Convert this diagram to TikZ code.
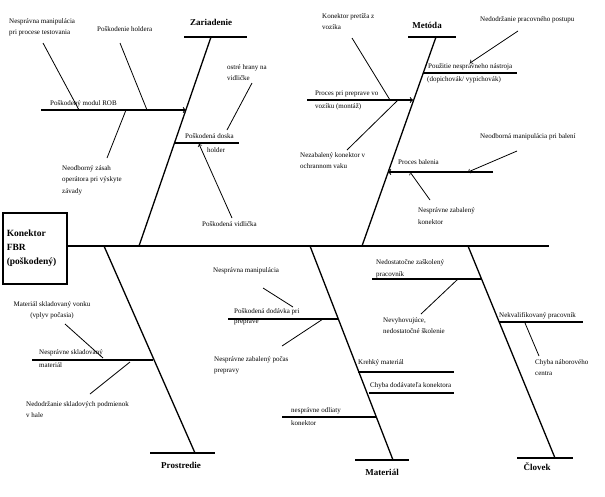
\documentclass[tikz,border=0pt]{standalone}
\usepackage{fontspec}
\setmainfont{Liberation Serif}
\usetikzlibrary{arrows,positioning}

\begin{document}
\begin{tikzpicture}[x=1pt,y=-1pt,>=to,
                    lbl/.style={font=\fontsize{7}{11.5}\selectfont, inner sep=0pt, align=left, anchor=west},
                    cat/.style={font=\fontsize{9}{11}\selectfont\bfseries, inner sep=0pt},
                    spine/.style={line width=2pt},
                    bone/.style={line width=1.3pt},
                    rib/.style={line width=1.1pt},
                    twig/.style={line width=0.8pt}]
  \useasboundingbox (0,0) rectangle (605,496);

  % head of the fish
  \node[draw, line width=1.5pt, anchor=north west, minimum width=64pt, minimum height=71pt,
        text width=56pt, inner xsep=4pt, align=left,
        font=\fontsize{9.5}{14}\selectfont\bfseries] (fbr) at (2,212) {Konektor\\FBR\\(poškodený)};
  \coordinate (tail) at (549,246);
  \draw[spine] (fbr.east |- tail) -- (tail);

  % Zariadenie
  \coordinate (zS) at (139,246);  \coordinate (zT) at (211,37);
  \node[cat] (zar) at (211,22) {Zariadenie};
  \draw[bone] ([xshift=-27pt]zT) -- ([xshift=36pt]zT);
  \draw[bone] (zT) -- (zS);
  \coordinate (rob0) at (41,110);  \coordinate (rob1) at (186,110);
  \coordinate (hol0) at (174,143); \coordinate (hol1) at (239,143);
  \draw[rib,->] (rob0) -- (rob1);
  \draw[rib] (hol0) -- (hol1);
  \node[lbl] (rob) at (50,104) {Poškodený modul ROB};
  \node[lbl] (dos) at (185,136) {Poškodená doska};
  \node[lbl] (hld) at (207,150) {holder};
  \node[lbl] (nmt) at (9,27.5) {Nesprávna manipulácia\\pri procese testovania};
  \node[lbl] (phl) at (97,29) {Poškodenie holdera};
  \node[lbl] (nzo) at (62,180) {Neodborný zásah\\operátora pri výskyte\\závady};
  \node[lbl] (ohr) at (227,72.5) {ostré hrany na\\vidličke};
  \node[lbl] (pvi) at (202,224) {Poškodená vidlička};
  \coordinate (nmt0) at (43,43);   \coordinate (nmt1) at (79,110);
  \coordinate (phl0) at (120,43);  \coordinate (phl1) at (147,110);
  \coordinate (nzo0) at (107,158); \coordinate (nzo1) at (126,110);
  \coordinate (ohr0) at (252,83);  \coordinate (ohr1) at (227,130);
  \coordinate (pvi0) at (232,218); \coordinate (pvi1) at (199,144);
  \draw[twig] (nmt0) -- (nmt1);
  \draw[twig] (phl0) -- (phl1);
  \draw[twig] (nzo0) -- (nzo1);
  \draw[twig] (ohr0) -- (ohr1);
  \draw[twig,->] (pvi0) -- (pvi1);

  % Metoda
  \coordinate (mS) at (362,246);  \coordinate (mT) at (436,37);
  \node[cat] (met) at (427,25) {Metóda};
  \draw[bone] ([xshift=-28pt]mT) -- ([xshift=20pt]mT);
  \draw[bone] (mT) -- (mS);
  \coordinate (pre0) at (307,100); \coordinate (pre1) at (413,100);
  \coordinate (nas0) at (423,73);  \coordinate (nas1) at (517,73);
  \coordinate (bal0) at (493,172); \coordinate (bal1) at (388,172);
  \draw[rib,->] (pre0) -- (pre1);
  \draw[rib] (nas0) -- (nas1);
  \draw[rib,->] (bal0) -- (bal1);
  \node[lbl] (pre) at (315,94) {Proces pri preprave vo};
  \node[lbl] (voz) at (315,107) {vozíku (montáž)};
  \node[lbl] (nas) at (428,67) {Použitie nesprávneho nástroja};
  \node[lbl] (dop) at (427,80) {(dopichovák/ vypichovák)};
  \node[lbl] (bal) at (398,162) {Proces balenia};
  \node[lbl] (kpz) at (322,21.5) {Konektor pretíža z\\vozíka};
  \node[lbl] (nko) at (300,160.5) {Nezabalený konektor v\\ochrannom vaku};
  \node[lbl] (npp) at (480,20) {Nedodržanie pracovného postupu};
  \node[lbl] (nmb) at (480,137) {Neodborná manipulácia pri balení};
  \node[lbl] (nzk) at (418,216) {Nesprávne zabalený\\konektor};
  \coordinate (kpz0) at (352,38);  \coordinate (kpz1) at (390,100);
  \coordinate (nko0) at (347,150); \coordinate (nko1) at (398,100);
  \coordinate (npp0) at (518,31);  \coordinate (npp1) at (470,63);
  \coordinate (nmb0) at (517,151); \coordinate (nmb1) at (468,172);
  \coordinate (nzk0) at (430,200); \coordinate (nzk1) at (410,172);
  \draw[twig] (kpz0) -- (kpz1);
  \draw[twig] (nko0) -- (nko1);
  \draw[twig,->] (npp0) -- (npp1);
  \draw[twig,->] (nmb0) -- (nmb1);
  \draw[twig,->] (nzk0) -- (nzk1);

  % Prostredie
  \coordinate (pS) at (104,246);  \coordinate (pT) at (195,453);
  \node[cat] (pro) at (181,465) {Prostredie};
  \draw[bone] ([xshift=-45pt]pT) -- ([xshift=20pt]pT);
  \draw[bone] (pS) -- (pT);
  \coordinate (skl0) at (32,360);  \coordinate (skl1) at (153,360);
  \draw[rib] (skl0) -- (skl1);
  \node[lbl] (skl) at (39,353) {Nesprávne skladovaný};
  \node[lbl] (mtr) at (39,365) {materiál};
  \node[lbl, align=center, anchor=center] (von) at (52,310.5) {Materiál skladovaný vonku\\(vplyv počasia)};
  \node[lbl] (nsp) at (26,409.5) {Nedodržanie skladových podmienok\\v hale};
  \coordinate (von0) at (65,324);  \coordinate (von1) at (103,358);
  \coordinate (nsp0) at (90,394);  \coordinate (nsp1) at (130,362);
  \draw[twig] (von0) -- (von1);
  \draw[twig] (nsp0) -- (nsp1);

  % Material
  \coordinate (maS) at (310,246); \coordinate (maT) at (393,460);
  \node[cat] (mat) at (382,472) {Materiál};
  \draw[bone] ([xshift=-38pt]maT) -- ([xshift=16pt]maT);
  \draw[bone] (maS) -- (maT);
  \coordinate (dod0) at (228,319); \coordinate (dod1) at (338,319);
  \coordinate (kre0) at (358,372); \coordinate (kre1) at (454,372);
  \coordinate (chd0) at (369,393); \coordinate (chd1) at (454,393);
  \coordinate (odl0) at (282,417); \coordinate (odl1) at (376,417);
  \draw[rib] (dod0) -- (dod1);
  \draw[rib] (kre0) -- (kre1);
  \draw[rib] (chd0) -- (chd1);
  \draw[rib] (odl0) -- (odl1);
  \node[lbl] (dod) at (234,312) {Poškodená dodávka pri};
  \node[lbl] (prp) at (234,323) {preprave};
  \node[lbl] (kre) at (358,363) {Krehký materiál};
  \node[lbl] (chd) at (370,386) {Chyba dodávateľa konektora};
  \node[lbl] (odl) at (291,411) {nesprávne odliaty};
  \node[lbl] (kon) at (291,423) {konektor};
  \node[lbl] (nma) at (213,271) {Nesprávna manipulácia};
  \node[lbl] (nzp) at (214,365.5) {Nesprávne zabalený počas\\prepravy};
  \coordinate (nma0) at (263,288); \coordinate (nma1) at (293,307);
  \coordinate (nzp0) at (282,346); \coordinate (nzp1) at (323,319);
  \draw[twig] (nma0) -- (nma1);
  \draw[twig] (nzp0) -- (nzp1);

  % Clovek
  \coordinate (cS) at (468,246);  \coordinate (cT) at (555,458);
  \node[cat] (clo) at (537,467) {Človek};
  \draw[bone] ([xshift=-38pt]cT) -- ([xshift=18pt]cT);
  \draw[bone] (cS) -- (cT);
  \coordinate (zas0) at (372,279); \coordinate (zas1) at (481,279);
  \coordinate (nkv0) at (499,322); \coordinate (nkv1) at (583,322);
  \draw[rib] (zas0) -- (zas1);
  \draw[rib] (nkv0) -- (nkv1);
  \node[lbl] (zas) at (376,263) {Nedostatočne zaškolený};
  \node[lbl] (prc) at (376,274.5) {pracovník};
  \node[lbl] (nkv) at (499,316) {Nekvalifikovaný pracovník};
  \node[lbl] (nev) at (383,325.5) {Nevyhovujúce,\\nedostatočné školenie};
  \node[lbl] (cnc) at (535,367.5) {Chyba náborového\\centra};
  \coordinate (nev0) at (421,314); \coordinate (nev1) at (458,279);
  \coordinate (cnc0) at (525,323); \coordinate (cnc1) at (539,356);
  \draw[twig] (nev0) -- (nev1);
  \draw[twig] (cnc0) -- (cnc1);
\end{tikzpicture}
\end{document}
